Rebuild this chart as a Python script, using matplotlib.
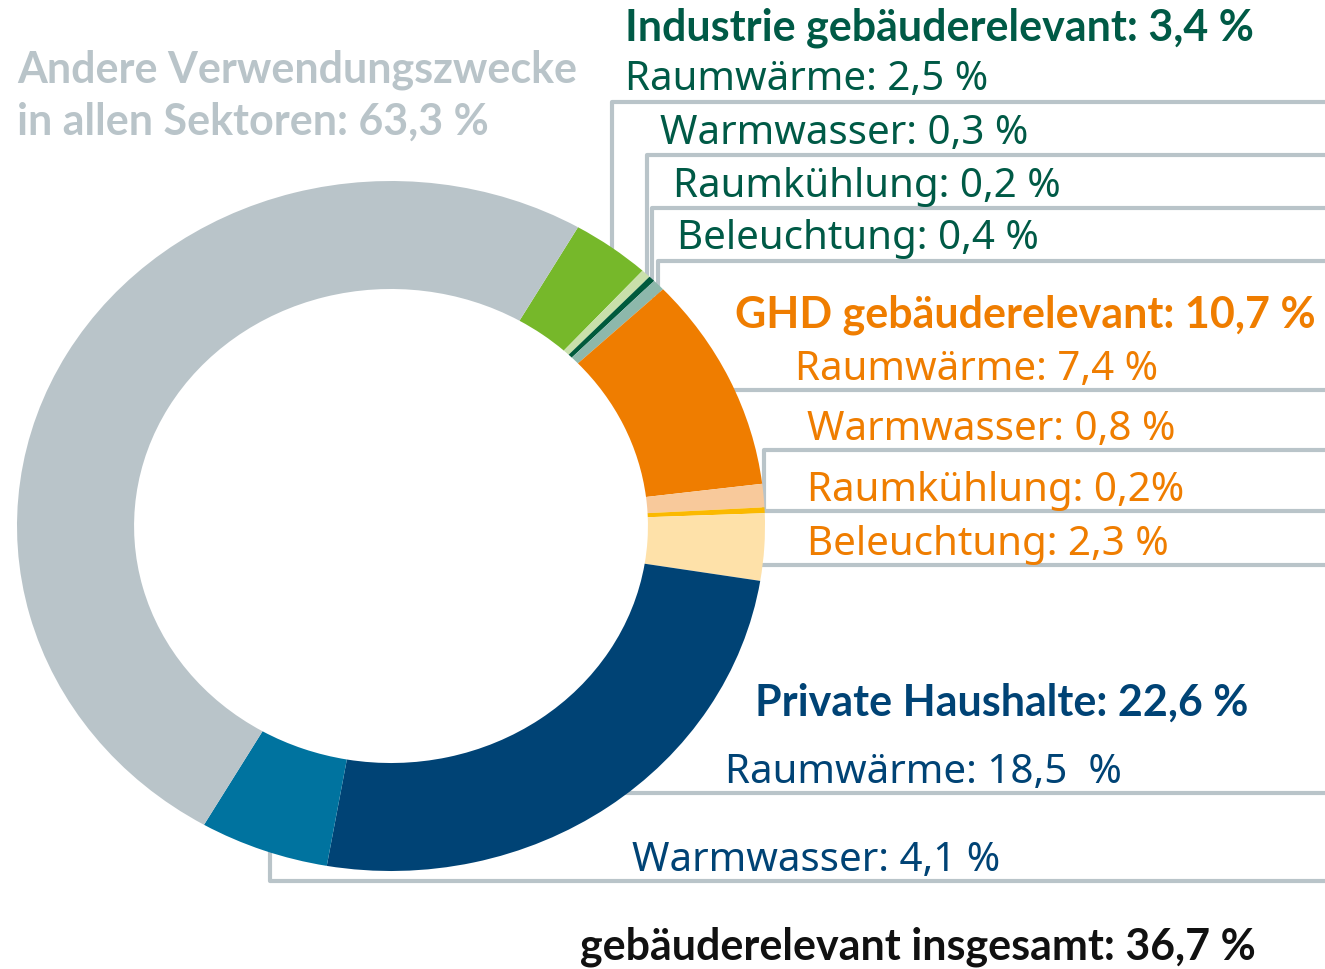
import matplotlib.pyplot as plt

# --- data (Anteile am Endenergieverbrauch, %) ---
INDUSTRIE_TOTAL = 3.4
GHD_TOTAL = 10.7
HAUSHALTE_TOTAL = 22.6
ANDERE_TOTAL = 63.3
GESAMT_TOTAL = 36.7

industrie_labels = ["Raumwärme", "Warmwasser", "Raumkühlung", "Beleuchtung"]
industrie_values = [2.5, 0.3, 0.2, 0.4]
ghd_labels = ["Raumwärme", "Warmwasser", "Raumkühlung", "Beleuchtung"]
ghd_values = [7.4, 0.8, 0.2, 2.3]
haushalte_labels = ["Raumwärme", "Warmwasser"]
haushalte_values = [18.5, 4.1]

# colours
GREY = "#b9c4c9"
IND_COLORS = ["#76b82a", "#c9e0ab", "#005a3c", "#8db8ab"]
GHD_COLORS = ["#ef7d00", "#f8c99b", "#fbb900", "#fee1a9"]
HH_COLORS = ["#004375", "#00739f"]
IND_TEXT = "#005a46"
GHD_TEXT = "#ef7d00"
HH_TEXT = "#004375"

FONT = "Noto Sans"
FONT_BOLD = "Lato"
FS = 29
FS_BOLD = 31


def pct(v, sep=" "):
    return f"{v:.1f}".replace(".", ",") + sep + "%"


W, H = 1325, 970
fig = plt.figure(figsize=(W / 100, H / 100), dpi=100)

# background axes in pixel coords (leader lines + text)
bg = fig.add_axes([0, 0, 1, 1])
bg.set_xlim(0, W)
bg.set_ylim(H, 0)
bg.axis("off")

# donut (the original draws the building part as a half ring,
# the rest "Andere" fills the other half)
bld_values = industrie_values + ghd_values + haushalte_values
sizes = bld_values + [sum(bld_values)]
colors = IND_COLORS + GHD_COLORS + HH_COLORS + [GREY]

pie_box = (17, 182, 765, 872)  # left, top, right, bottom in px
ax = fig.add_axes([pie_box[0] / W, 1 - pie_box[3] / H,
                   (pie_box[2] - pie_box[0]) / W, (pie_box[3] - pie_box[1]) / H])
ax.pie(sizes, colors=colors, startangle=60, counterclock=False, radius=1,
       wedgeprops=dict(width=0.313, linewidth=0))
ax.set_aspect("auto")
ax.set_xlim(-1, 1)
ax.set_ylim(-1, 1)
ax.axis("off")
ax.patch.set_alpha(0)

# leader lines (hidden behind the ring where they start)
lk = dict(color=GREY, lw=3, solid_capstyle="butt", zorder=1)
# Industrie
for x0, y0 in [(612, 103), (647, 156), (652, 209), (658, 262)]:
    bg.plot([x0, x0, W], [300, y0, y0], **lk)
# GHD
bg.plot([700, W], [391, 391], **lk)
bg.plot([764, 764, W], [512, 451, 451], **lk)
bg.plot([740, W], [512, 512], **lk)
bg.plot([740, W], [566, 566], **lk)
# Private Haushalte
bg.plot([600, W], [794, 794], **lk)
bg.plot([270, 270, W], [800, 882, 882], **lk)

txt = dict(fontfamily=FONT, fontsize=FS, va="baseline", ha="left")
btxt = dict(fontfamily=FONT_BOLD, fontsize=FS_BOLD, fontweight="bold",
            va="baseline", ha="left")

# Andere
bg.text(17, 83, "Andere Verwendungszwecke", color=GREY, **btxt)
bg.text(17, 135, f"in allen Sektoren: {pct(ANDERE_TOTAL)}", color=GREY, **btxt)

# Industrie
bg.text(625, 40, f"Industrie gebäuderelevant: {pct(INDUSTRIE_TOTAL)}",
        color=IND_TEXT, **btxt)
for (x, y), lab, v in zip([(625, 90), (660, 144), (673, 197), (677, 249)],
                          industrie_labels, industrie_values):
    bg.text(x, y, f"{lab}: {pct(v)}", color=IND_TEXT, **txt)

# GHD
bg.text(735, 328, f"GHD gebäuderelevant: {pct(GHD_TOTAL)}",
        color=GHD_TEXT, **btxt)
for (x, y), lab, v, sep in zip([(795, 380), (807, 440), (807, 501), (807, 555)],
                               ghd_labels, ghd_values, [" ", " ", "", " "]):
    bg.text(x, y, f"{lab}: {pct(v, sep)}", color=GHD_TEXT, **txt)

# Private Haushalte
bg.text(755, 716, f"Private Haushalte: {pct(HAUSHALTE_TOTAL)}",
        color=HH_TEXT, **btxt)
for (x, y), lab, v, sep in zip([(725, 783), (632, 871)],
                               haushalte_labels, haushalte_values, ["  ", " "]):
    bg.text(x, y, f"{lab}: {pct(v, sep)}", color=HH_TEXT, **txt)

bg.text(580, 960, f"gebäuderelevant insgesamt: {pct(GESAMT_TOTAL)}",
        color="#111111", **btxt)

fig.savefig("out.png", dpi=100)
